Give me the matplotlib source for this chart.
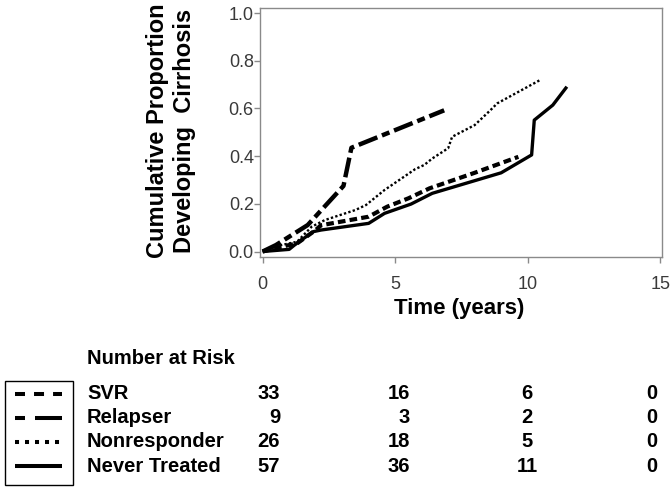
import numpy as np
import matplotlib
matplotlib.use("Agg")
import matplotlib.pyplot as plt
from matplotlib.patches import Rectangle

plt.rcParams['font.family'] = ['Liberation Sans', 'DejaVu Sans']
plt.rcParams['lines.scale_dashes'] = False

# curves (years, cumulative proportion)
svr_t = [0, 0.7, 1.3, 2.0, 2.2, 4.0, 4.7, 5.5, 6.3, 8.0, 9.65]
svr_p = [0, 0.02, 0.034, 0.09, 0.11, 0.146, 0.188, 0.223, 0.265, 0.33, 0.397]

relapser_t = [0, 0.5, 1.7, 3.05, 3.35, 6.85]
relapser_p = [0, 0.027, 0.111, 0.275, 0.435, 0.592]

nonresp_t = [0, 0.7, 1.3, 1.85, 2.35, 3.5, 3.9, 4.6, 5.25, 5.75, 6.1, 6.4,
             7.0, 7.15, 8.0, 8.6, 8.85, 10.47]
nonresp_p = [0, 0.027, 0.041, 0.104, 0.132, 0.174, 0.195, 0.258, 0.307, 0.345,
             0.363, 0.39, 0.433, 0.481, 0.53, 0.593, 0.621, 0.719]

never_t = [0, 1.0, 1.2, 1.9, 2.2, 4.0, 4.6, 5.6, 6.4, 9.0, 10.15, 10.25, 10.95, 11.48]
never_p = [0, 0.009, 0.027, 0.083, 0.09, 0.118, 0.16, 0.199, 0.244, 0.33, 0.405,
           0.551, 0.614, 0.691]

groups = ['SVR', 'Relapser', 'Nonresponder', 'Never Treated']
at_risk = [[33, 16, 6, 0],
           [9, 3, 2, 0],
           [26, 18, 5, 0],
           [57, 36, 11, 0]]

xticks = [0, 5, 10, 15]
yticks = [0.0, 0.2, 0.4, 0.6, 0.8, 1.0]

# line styles (plot, legend sample)
styles = [
    dict(lw=3.0, dashes=(5.5, 3.0)),
    dict(lw=3.2, dashes=(14.4, 3.6, 5.8, 3.6)),
    dict(lw=1.7, dashes=(1.7, 1.6)),
    dict(lw=2.4, ls='-'),
]
legend_styles = [
    dict(lw=2.9, dashes=(7.2, 6.5)),
    dict(lw=2.9, dashes=(7.2, 7.2, 19.5, 7.2)),
    dict(lw=2.9, dashes=(2.9, 4.3)),
    dict(lw=2.9, ls='-'),
]

W, H = 672, 491
fig = plt.figure(figsize=(W / 100, H / 100), dpi=100)

# axes box in pixels: left 260, right 662, top 8, bottom 257
ax = fig.add_axes([260 / W, 1 - 257 / H, 402 / W, 249 / H])
curves = [(svr_t, svr_p), (relapser_t, relapser_p), (nonresp_t, nonresp_p), (never_t, never_p)]
for (t, p), st in zip(curves, styles):
    ax.plot(t, p, color='black', solid_capstyle='butt', dash_capstyle='butt', **st)

ax.set_xlim(-0.1, 15.07)
ax.set_ylim(-0.023, 1.021)
ax.set_xticks(xticks)
ax.set_yticks(yticks)
ax.set_yticklabels([f'{v:.1f}' for v in yticks])
for s in ax.spines.values():
    s.set_color('#8a8a8a')
    s.set_linewidth(1.0)
ax.tick_params(axis='both', colors='#8a8a8a', labelcolor='#3a3a3a', length=4, width=1)
ax.tick_params(axis='x', pad=10)
ax.tick_params(axis='y', pad=0.5)
for lab in ax.get_xticklabels() + ax.get_yticklabels():
    lab.set_fontsize(13)

ax.set_xlabel('Time (years)', fontsize=16, fontweight='bold', va='center')
ax.xaxis.set_label_coords(0.495, -0.205)
ax.set_ylabel('Cumulative Proportion\nDeveloping  Cirrhosis', fontsize=17,
              fontweight='bold', va='center', ha='center', linespacing=1.2)
ax.yaxis.set_label_coords(-0.222, 0.506)

# number at risk table, drawn on an overlay in pixel units
ov = fig.add_axes([0, 0, 1, 1])
ov.set_xlim(0, W)
ov.set_ylim(H, 0)
ov.axis('off')

ov.text(87, 358, 'Number at Risk', fontsize=14.5, fontweight='bold', va='center', ha='left')
ov.add_patch(Rectangle((5, 381), 68, 104, fill=False, edgecolor='black', lw=1.0))

row_y = [393.5, 417.5, 441.5, 466]
col_x = [280, 410, 527, 652]
col_ha = ['right', 'right', 'center', 'center']
for i, g in enumerate(groups):
    y = row_y[i]
    ov.plot([15, 62], [y, y], color='black', solid_capstyle='butt',
            dash_capstyle='butt', **legend_styles[i])
    ov.text(87, y, g, fontsize=14.5, fontweight='bold', va='center', ha='left')
    for j, n in enumerate(at_risk[i]):
        ov.text(col_x[j], y, str(n), fontsize=14.5, fontweight='bold',
                va='center', ha=col_ha[j])

fig.savefig('out.png', dpi=100)
